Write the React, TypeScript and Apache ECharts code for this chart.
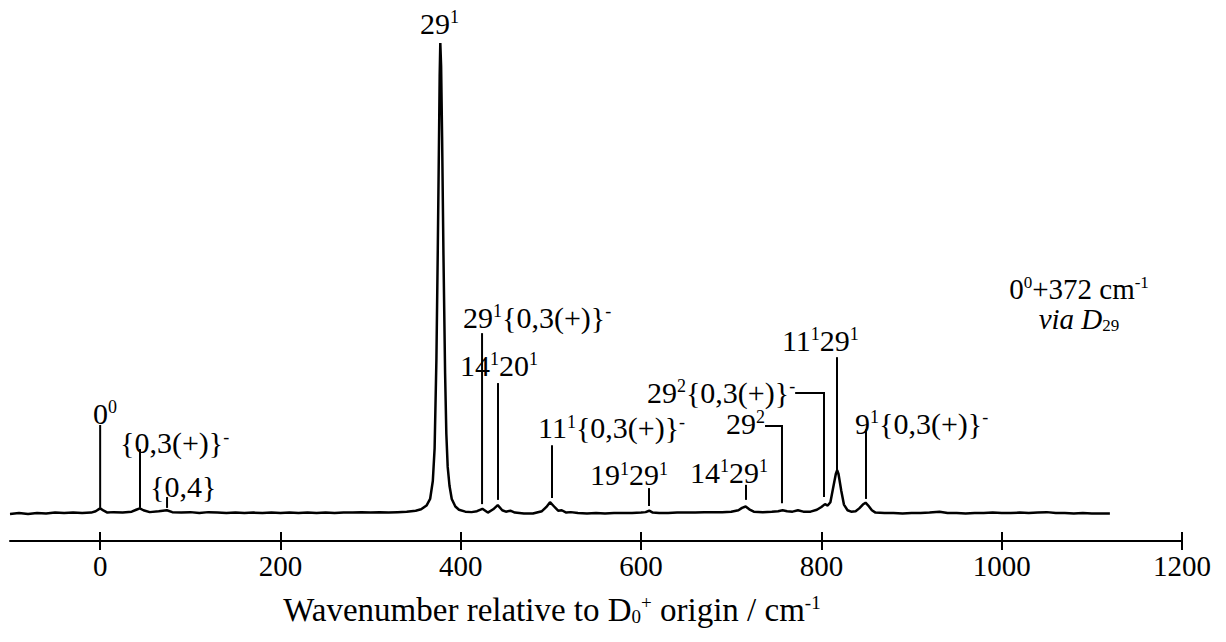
import React, { useEffect, useRef } from "react";
import * as echarts from "echarts";

// Spectrum: wavenumber (cm-1 relative to D0+ origin) and relative intensity
const spectrumWavenumber = [
  -100, -90, -80, -70, -60, -50, -40, -30, -20, -10, -5, 0, 4, 8, 15, 25, 35, 40, 44, 48, 55, 65, 74, 80, 90,
  100, 110, 120, 130, 140, 150, 160, 170, 180, 190, 200, 210, 220, 230, 240, 250, 260, 270, 280, 290, 300,
  310, 320, 330, 340, 350, 356, 362, 366, 369, 371, 373, 374.5, 376, 376.6, 377.3, 378.2, 379.3, 380.8,
  382.6, 384, 385.5, 387.5, 390, 394, 398, 405, 412, 418, 424, 430, 436, 441, 446, 450, 455, 460, 470, 480,
  490, 495, 499, 503, 508, 512, 517, 522, 530, 540, 550, 560, 570, 580, 590, 600, 605, 609, 613, 620, 630,
  640, 650, 660, 670, 680, 690, 700, 708, 712, 716, 720, 725, 735, 745, 752, 757, 762, 768, 774, 780, 788,
  795, 800, 804, 807, 810, 813, 816, 817.5, 819, 822, 825, 829, 833, 838, 842, 846, 849, 852, 856, 860, 870,
  880, 890, 900, 910, 920, 931, 940, 950, 960, 970, 980, 990, 1000, 1010, 1020, 1030, 1040, 1050, 1060,
  1070, 1080, 1090, 1100, 1110, 1120,
];
const spectrumIntensity = [
  0.0, 0.002, 0.0, 0.002, 0.001, 0.003, 0.002, 0.003, 0.002, 0.003, 0.006, 0.012, 0.007, 0.003, 0.004, 0.003,
  0.005, 0.009, 0.012, 0.008, 0.004, 0.006, 0.008, 0.004, 0.003, 0.004, 0.002, 0.004, 0.003, 0.002, 0.003,
  0.002, 0.003, 0.002, 0.003, 0.002, 0.003, 0.002, 0.003, 0.002, 0.003, 0.002, 0.003, 0.003, 0.004, 0.003,
  0.004, 0.003, 0.004, 0.005, 0.007, 0.01, 0.018, 0.032, 0.07, 0.14, 0.33, 0.56, 0.82, 0.93, 1.0, 0.95,
  0.8, 0.55, 0.3, 0.17, 0.1, 0.06, 0.032, 0.016, 0.009, 0.005, 0.004, 0.006, 0.011, 0.003, 0.01, 0.019,
  0.008, 0.005, 0.007, 0.003, 0.001, 0.001, 0.006, 0.015, 0.025, 0.017, 0.007, 0.008, 0.003, 0.004, 0.002,
  0.001, 0.002, 0.001, 0.002, 0.002, 0.002, 0.003, 0.004, 0.007, 0.003, 0.002, 0.002, 0.003, 0.003, 0.003,
  0.004, 0.004, 0.004, 0.005, 0.008, 0.013, 0.016, 0.01, 0.005, 0.004, 0.005, 0.006, 0.008, 0.006, 0.005,
  0.008, 0.005, 0.005, 0.009, 0.015, 0.021, 0.018, 0.025, 0.055, 0.085, 0.093, 0.085, 0.05, 0.02, 0.008,
  0.005, 0.006, 0.012, 0.02, 0.024, 0.018, 0.008, 0.003, 0.002, 0.002, 0.001, 0.002, 0.002, 0.003, 0.005,
  0.002, 0.002, 0.001, 0.002, 0.002, 0.003, 0.002, 0.002, 0.003, 0.002, 0.003, 0.004, 0.002, 0.002, 0.001,
  0.002, 0.001, 0.001, 0.001,
];

// Axis
const xMin = -100;
const xMax = 1200;
const tickValues = [0, 200, 400, 600, 800, 1000, 1200];

// Band assignments ({s|..} = superscript)
const bandLabels = [
  "0{s|0}",
  "{0,3(+)}{s|-}",
  "{0,4}",
  "29{s|1}",
  "29{s|1}{0,3(+)}{s|-}",
  "14{s|1}20{s|1}",
  "11{s|1}{0,3(+)}{s|-}",
  "19{s|1}29{s|1}",
  "14{s|1}29{s|1}",
  "29{s|2}",
  "29{s|2}{0,3(+)}{s|-}",
  "11{s|1}29{s|1}",
  "9{s|1}{0,3(+)}{s|-}",
];
// wavenumber of each marker line (null = no line)
const bandWavenumber = [0, 44.2, 74.2, null, 423.6, 441.3, 501.2, 608.8, 716.4, 756.3, 802.9, 817.3, 849.5];
// marker line top / bottom (relative intensity)
const bandLineTop = [0.189, 0.138, 0.036, null, 0.384, 0.278, 0.146, 0.055, 0.062, 0.187, 0.257, 0.333, 0.18];
const bandLineBottom = [0.013, 0.013, 0.013, null, 0.021, 0.03, 0.034, 0.017, 0.03, 0.023, 0.036, 0.089, 0.032];
// elbow: horizontal leader from label end to the marker line
const bandElbowFrom = [null, null, null, null, null, null, null, null, null, 737.5, 770.9, null, null];
// label anchor (wavenumber, intensity) and alignment
const labelAnchorX = [-7.9, 22.0, 55.3, 354.8, 402.5, 399.2, 485.7, 543.4, 654.3, 737.5, 770.9, 756.3, 837.3];
const labelAnchorY = [0.214, 0.151, 0.059, 1.042, 0.418, 0.316, 0.183, 0.083, 0.089, 0.193, 0.259, 0.369, 0.193];
const labelAlign = ["left", "left", "left", "left", "left", "left", "left", "left", "left", "right", "right", "left", "left"];

const FONT = "Liberation Serif, Times New Roman, serif";
const LABEL_SIZE = 30;
const SUP_SIZE = 18;

export default function App() {
  const ref = useRef<HTMLDivElement>(null);

  useEffect(() => {
    if (!ref.current) return;
    const chart = echarts.init(ref.current, null, { renderer: "svg" });

    const rich = {
      s: { fontSize: SUP_SIZE, fontFamily: FONT, color: "#000", verticalAlign: "top", lineHeight: SUP_SIZE },
      sub: { fontSize: SUP_SIZE, fontFamily: FONT, color: "#000", verticalAlign: "bottom", lineHeight: SUP_SIZE },
    };

    const spectrum = spectrumWavenumber.map((v, i) => [v, spectrumIntensity[i]]);
    const bandData = bandLabels.map((_, i) => [bandWavenumber[i] ?? labelAnchorX[i], bandLineTop[i] ?? labelAnchorY[i]]);

    const option: any = {
      animation: false,
      backgroundColor: "#fff",
      grid: { left: 10, right: 44, top: 0, bottom: 101 },
      xAxis: [
        {
          type: "value",
          min: xMin,
          max: xMax,
          interval: 100,
          position: "bottom",
          axisLine: { show: true, onZero: false, lineStyle: { color: "#000", width: 2 } },
          axisTick: { show: true, inside: false, length: 9, customValues: tickValues, lineStyle: { color: "#000", width: 2 } },
          axisLabel: {
            show: true,
            customValues: tickValues,
            formatter: (v: number) => String(v),
            margin: 10,
            color: "#000",
            fontFamily: FONT,
            fontSize: 29,
          },
          splitLine: { show: false },
          name: "Wavenumber relative to D{sub|0}{s|+} origin / cm{s|-1}",
          nameLocation: "middle",
          nameGap: 52,
          nameTextStyle: {
            color: "#000",
            fontFamily: FONT,
            fontSize: 33,
            padding: [0, 88, 0, 0],
            rich: {
              s: { fontSize: 19, fontFamily: FONT, color: "#000", verticalAlign: "top", lineHeight: 19 },
              sub: { fontSize: 19, fontFamily: FONT, color: "#000", verticalAlign: "bottom", lineHeight: 19, padding: [16, 0, 0, 0] },
            },
          },
        },
        {
          type: "value",
          min: xMin,
          max: xMax,
          interval: 100,
          position: "bottom",
          axisLine: { show: false, onZero: false },
          axisTick: { show: true, inside: true, length: 9, customValues: tickValues, lineStyle: { color: "#000", width: 2 } },
          axisLabel: { show: false },
          splitLine: { show: false },
        },
      ],
      yAxis: {
        type: "value",
        min: -0.0573,
        max: 1.0913,
        show: false,
        splitLine: { show: false },
      },
      series: [
        {
          type: "line",
          data: spectrum,
          showSymbol: false,
          symbol: "none",
          lineStyle: { color: "#000", width: 2.5 },
          xAxisIndex: 0,
          yAxisIndex: 0,
          z: 2,
        },
        {
          type: "custom",
          xAxisIndex: 0,
          yAxisIndex: 0,
          clip: false,
          data: bandData,
          encode: { x: 0, y: 1 },
          renderItem: (params: any, api: any) => {
            const i = params.dataIndex;
            const children: any[] = [];
            const w = bandWavenumber[i];
            const top = bandLineTop[i];
            const bottom = bandLineBottom[i];
            if (w != null && top != null && bottom != null) {
              const pts = [api.coord([w, bottom]), api.coord([w, top])];
              const elbow = bandElbowFrom[i];
              if (elbow != null) pts.push(api.coord([elbow, top]));
              children.push({
                type: "polyline",
                shape: { points: pts },
                style: { stroke: "#000", lineWidth: 2, fill: null },
              });
            }
            const lp = api.coord([labelAnchorX[i], labelAnchorY[i]]);
            children.push({
              type: "text",
              x: lp[0],
              y: lp[1],
              style: {
                text: bandLabels[i],
                fontFamily: FONT,
                fontSize: LABEL_SIZE,
                fill: "#000",
                align: labelAlign[i],
                verticalAlign: "middle",
                rich,
              },
            });
            return { type: "group", children };
          },
          z: 3,
        },
      ],
      graphic: [
        {
          type: "text",
          x: 1079,
          y: 304,
          style: {
            text: "0{s|0}+372 cm{s|-1}\n{i|via D}{sub|29}",
            fontFamily: FONT,
            fontSize: 29,
            lineHeight: 30,
            fill: "#000",
            align: "center",
            verticalAlign: "middle",
            rich: {
              s: { fontSize: 17, fontFamily: FONT, color: "#000", verticalAlign: "top", lineHeight: 17 },
              i: { fontSize: 29, fontFamily: FONT, fontStyle: "italic", color: "#000", lineHeight: 30, align: "center" },
              sub: { fontSize: 17, fontFamily: FONT, color: "#000", lineHeight: 16, verticalAlign: "bottom", align: "center" },
            },
          },
        },
      ],
    };

    chart.setOption(option);
    return () => chart.dispose();
  }, []);

  return <div ref={ref} style={{ position: "absolute", left: 0, top: 0, width: 1226, height: 642 }} />;
}
